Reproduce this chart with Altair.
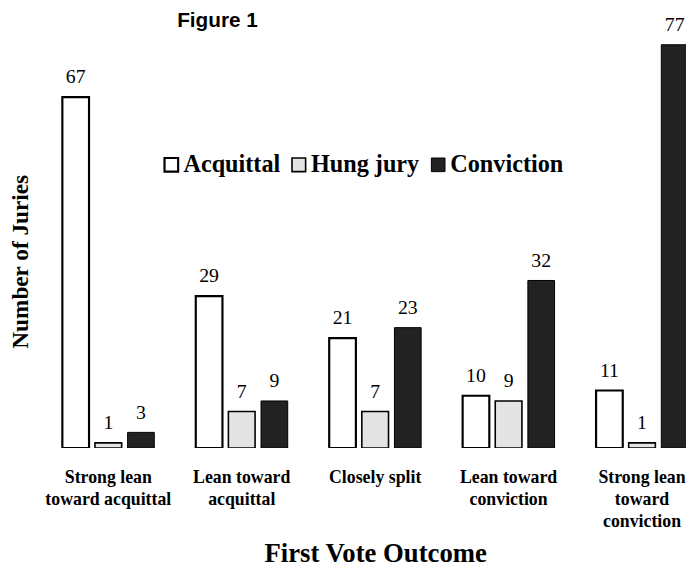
import altair as alt
import pandas as pd

figure_title = ["Figure 1"]
categories = [
    "Strong lean|toward acquittal",
    "Lean toward|acquittal",
    "Closely split",
    "Lean toward|conviction",
    "Strong lean|toward|conviction",
]
series = ["Acquittal", "Hung jury", "Conviction"]
acquittal = [67, 29, 21, 10, 11]
hung_jury = [1, 7, 7, 9, 1]
conviction = [3, 9, 23, 32, 77]
colors = ["#ffffff", "#e4e4e4", "#222222"]
stroke_widths = [2.2, 1.0, 1.5]

rows = []
for i, c in enumerate(categories):
    for s, vals in zip(series, [acquittal, hung_jury, conviction]):
        rows.append({"outcome": c, "verdict": s, "juries": vals[i]})
df = pd.DataFrame(rows)
title_df = pd.DataFrame({"t": figure_title})

serif = "Liberation Serif"

x_enc = alt.X(
    "outcome:N",
    sort=categories,
    scale=alt.Scale(range=[2, 677], paddingInner=0.311, paddingOuter=0.1555),
    axis=alt.Axis(
        title="First Vote Outcome",
        labelAngle=0,
        labelExpr="split(datum.label, '|')",
        labelFont=serif,
        labelFontWeight="bold",
        labelFontSize=18,
        labelLineHeight=22,
        labelPadding=21,
        labelColor="black",
        domain=False,
        ticks=False,
        grid=False,
        titleFont=serif,
        titleFontWeight="bold",
        titleFontSize=27,
        titleColor="black",
        titleY=115,
        titleBaseline="alphabetic",
    ),
)
xoff = alt.XOffset(
    "verdict:N", sort=series, scale=alt.Scale(paddingInner=0.182, paddingOuter=0)
)
y_enc = alt.Y(
    "juries:Q",
    scale=alt.Scale(domain=[0, 80], nice=False),
    axis=alt.Axis(
        title="Number of Juries",
        labels=False,
        ticks=False,
        domain=False,
        grid=False,
        titleFont=serif,
        titleFontWeight="bold",
        titleFontSize=23.5,
        titleColor="black",
        titleX=-19,
        titleY=235,
        titleAngle=-90,
        titleAlign="center",
        titleBaseline="middle",
    ),
)

bars = alt.Chart(df).mark_bar(stroke="black", clip=True).encode(
    x=x_enc,
    xOffset=xoff,
    y=y_enc,
    strokeWidth=alt.StrokeWidth(
        "verdict:N", scale=alt.Scale(domain=series, range=stroke_widths), legend=None
    ),
    fill=alt.Fill(
        "verdict:N",
        sort=series,
        scale=alt.Scale(domain=series, range=colors),
        legend=alt.Legend(
            title=None,
            orient="none",
            legendX=121,
            legendY=125,
            direction="horizontal",
            symbolType="square",
            symbolSize=190,
            symbolStrokeColor="black",
            symbolStrokeWidth=1.6,
            labelFont=serif,
            labelFontWeight="bold",
            labelFontSize=24.5,
            labelColor="black",
            labelOffset=0,
            columnPadding=6,
        ),
    ),
)

labels = alt.Chart(df).mark_text(
    font=serif, fontSize=20, color="black", baseline="alphabetic", dy=-14
).encode(x=x_enc, xOffset=xoff, y=y_enc, text="juries:Q")

title_mark = alt.Chart(title_df).mark_text(
    font="Liberation Sans",
    fontSize=21,
    fontWeight="bold",
    color="black",
    baseline="alphabetic",
    align="center",
).encode(x=alt.value(180), y=alt.value(-2), text="t:N")

chart = (
    alt.layer(bars, labels, title_mark)
    .properties(
        width=654,
        height=424,
        autosize=alt.AutoSizeParams(type="none"),
        padding={"left": 32, "top": 18, "right": 0, "bottom": 117},
    )
    .configure_view(stroke=None, strokeWidth=0)
    .configure_axis(domain=False, grid=False, ticks=False)
    .configure(background="white", style={"cell": {"stroke": "transparent"}})
)

chart.save("out.html", embed_options={"renderer": "svg", "actions": False})
